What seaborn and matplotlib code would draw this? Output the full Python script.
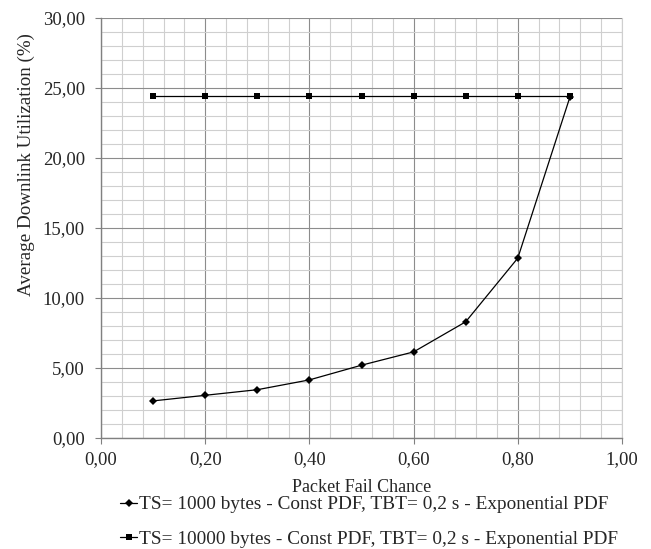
import numpy as np
import pandas as pd
import matplotlib
matplotlib.use('Agg')
import matplotlib.pyplot as plt
from matplotlib.ticker import MultipleLocator, FuncFormatter
import seaborn as sns

# Data
fail_chance = [0.1, 0.2, 0.3, 0.4, 0.5, 0.6, 0.7, 0.8, 0.9]
util_ts1000 = [2.65, 3.05, 3.45, 4.15, 5.2, 6.15, 8.3, 12.85, 24.35]
util_ts10000 = [24.45, 24.45, 24.45, 24.45, 24.45, 24.45, 24.45, 24.45, 24.45]
label_1000 = 'TS= 1000 bytes - Const PDF, TBT= 0,2 s - Exponential PDF'
label_10000 = 'TS= 10000 bytes - Const PDF, TBT= 0,2 s - Exponential PDF'

sns.set_style('white')
plt.rcParams['font.family'] = ['Liberation Serif', 'DejaVu Serif']

fig = plt.figure(figsize=(6.51, 5.49), dpi=100)
ax = fig.add_axes([101 / 651, 1 - 438 / 549, 521 / 651, 420 / 549])

sns.lineplot(x=fail_chance, y=util_ts1000, ax=ax, color='black', linewidth=0.9,
             marker='D', markersize=3.8, markeredgewidth=0, label=label_1000)
sns.lineplot(x=fail_chance, y=util_ts10000, ax=ax, color='black', linewidth=0.9,
             marker='s', markersize=3.8, markeredgewidth=0, label=label_10000)

ax.set_xlim(0, 1)
ax.set_ylim(0, 30)
ax.xaxis.set_major_locator(MultipleLocator(0.2))
ax.xaxis.set_minor_locator(MultipleLocator(0.04))
ax.yaxis.set_major_locator(MultipleLocator(5))
ax.yaxis.set_minor_locator(MultipleLocator(1))
comma_fmt = FuncFormatter(lambda v, p: f'{v:.2f}'.replace('.', ','))
ax.xaxis.set_major_formatter(comma_fmt)
ax.yaxis.set_major_formatter(comma_fmt)

ax.grid(which='major', color='#8c8c8c', linewidth=0.8)
ax.grid(which='minor', color='#cfcfcf', linewidth=0.8)
ax.set_axisbelow(True)

for side in ['left', 'bottom']:
    ax.spines[side].set_color('#808080')
    ax.spines[side].set_linewidth(1)
ax.spines['top'].set_visible(False)
ax.spines['right'].set_color('#cfcfcf')

ax.tick_params(which='major', direction='out', length=4.5, width=0.8, color='#808080',
               labelsize=13.5, left=True, bottom=True)
ax.tick_params(axis='y', pad=7)
ax.tick_params(axis='x', pad=5)
ax.tick_params(which='minor', length=0)

ax.set_xlabel('Packet Fail Chance', fontsize=13)
ax.xaxis.set_label_coords(0.5, -(479 - 438) / 420)
ax.set_ylabel('Average Downlink Utilization (%)', fontsize=13.7)
ax.yaxis.set_label_coords(-(101 - 35) / 521, (438 - 165) / 420)

ax.get_legend().remove()
handles, labels = ax.get_legend_handles_labels()
fig.legend(handles, labels, loc='upper left', bbox_to_anchor=(120 / 651, 1 - 496 / 549),
           frameon=False, fontsize=13.85, handlelength=0.9, handletextpad=0.1,
           labelspacing=0.89, borderpad=0, borderaxespad=0)

fig.savefig('out.png', dpi=100)
